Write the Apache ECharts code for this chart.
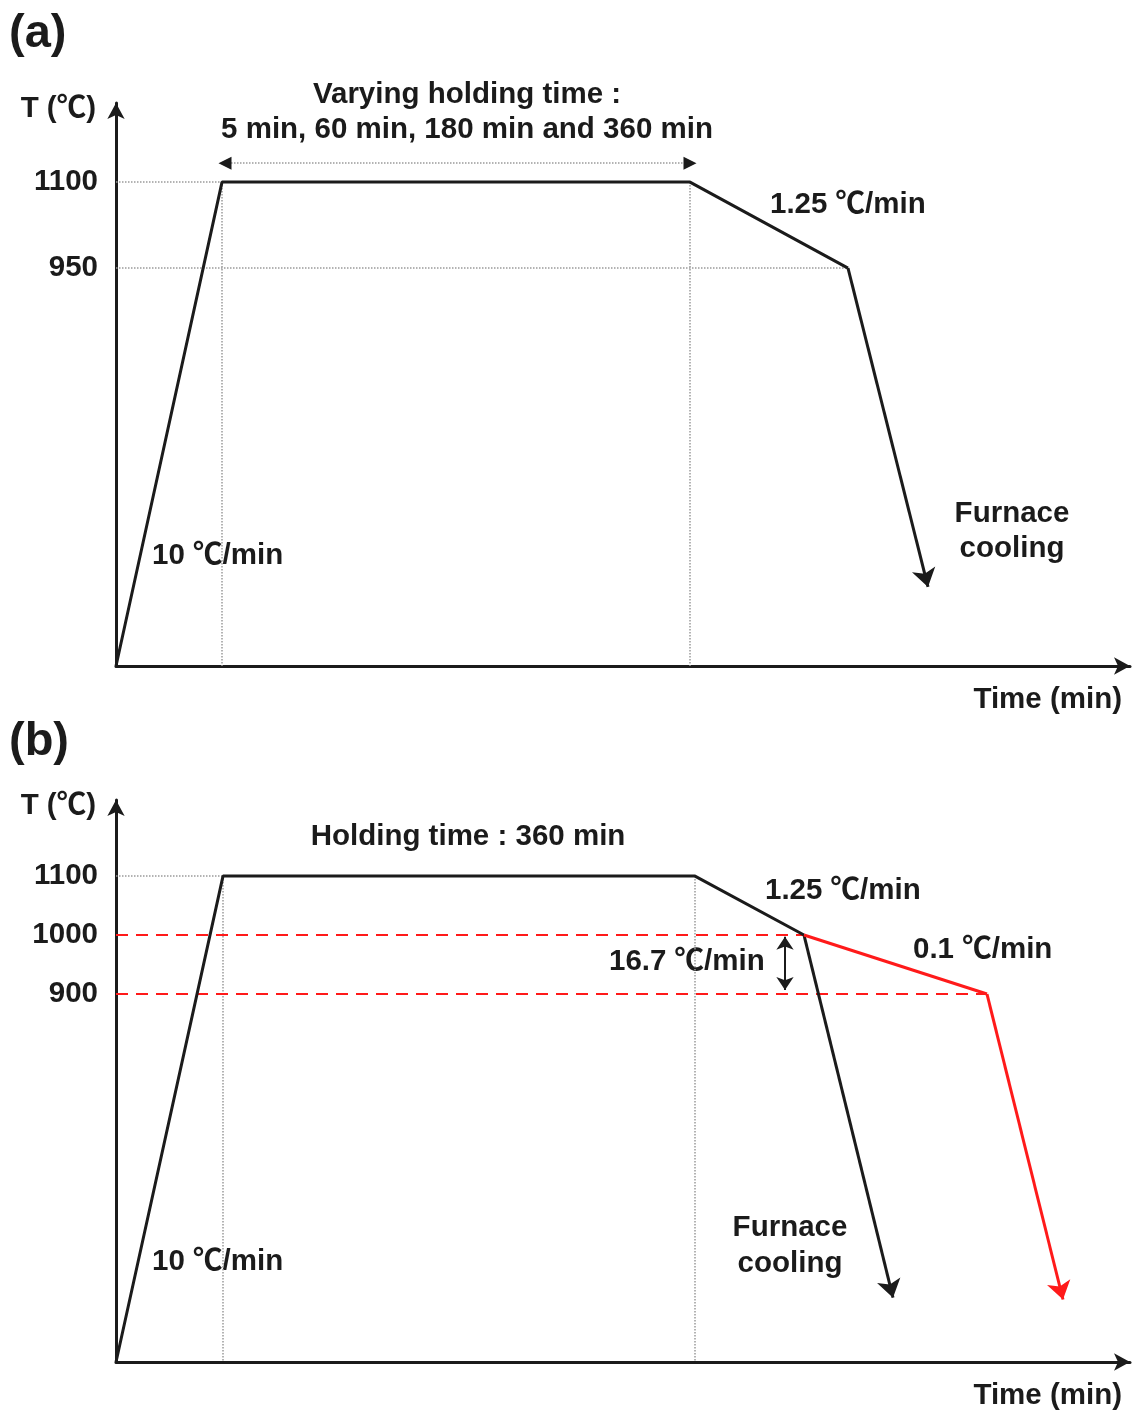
<!DOCTYPE html>
<html>
<head>
<meta charset="utf-8">
<script src="https://cdn.jsdelivr.net/npm/echarts@6/dist/echarts.min.js"></script>
<style>
  html, body { margin: 0; padding: 0; background: #fff; }
  #chart { width: 1132px; height: 1414px; }
</style>
</head>
<body>
<div id="chart"></div>
<script>
// schematic heat treatment profiles, time in arbitrary schematic units

// panel (a)
const timeA = [0, 106, 574, 732]
const tempA = [256, 1100, 1100, 950]
const coolTimeA = [732, 812]
const coolTempA = [950, 394]
const holdSpanA = [109, 574]
const holdTempA = 1133
const tickTempA = [950, 1100]
const rangeA = [256, 1238]

// panel (b)
const timeB = [0, 107, 579, 688]
const tempB = [276, 1100, 1100, 1000]
const coolTimeB = [688, 777]
const coolTempB = [1000, 385]
const slowTimeB = [688, 871, 947]
const slowTempB = [1000, 900, 382]
const rateArrowTimeB = 669
const rateArrowTempB = [997, 907]
const tickTempB = [900, 1000, 1100]
const rangeB = [276, 1229]

const timeMax = 1014
const FONT = '"Liberation Sans", Arial, "Noto Sans CJK KR", sans-serif'
const INK = '#1b1b1b'
const RED = '#ff1a1a'
const GUIDE = '#9a9a9a'
const FS = 29.5

const zip = (xs, ys) => xs.map((x, i) => [x, ys[i]])
const seg = (a, b) => ({ coords: [a, b] })

function axesFor (i, range, ticks) {
  const x = {
    type: 'value',
    gridIndex: i,
    min: 0,
    max: timeMax,
    name: 'Time (min)',
    nameLocation: 'end',
    nameGap: -8,
    nameTextStyle: { fontFamily: FONT, fontWeight: 'bold', fontSize: FS, color: INK, align: 'right', verticalAlign: 'top', padding: [19, 0, 0, 0] },
    axisLine: { lineStyle: { color: INK, width: 3 }, symbol: ['none', 'arrow'], symbolSize: [13, 16] },
    axisTick: { show: false },
    axisLabel: { show: false },
    splitLine: { show: false }
  }
  const y = {
    type: 'value',
    gridIndex: i,
    min: range[0],
    max: range[1],
    name: 'T (℃)',
    nameLocation: 'end',
    nameGap: -6,
    nameTextStyle: { fontFamily: FONT, fontWeight: 'bold', fontSize: FS, color: INK, align: 'right', verticalAlign: 'middle', padding: [0, 20, 0, 0] },
    axisLine: { lineStyle: { color: INK, width: 3 }, symbol: ['none', 'arrow'], symbolSize: [13, 16] },
    axisTick: { show: false },
    axisLabel: {
      customValues: ticks,
      margin: 18,
      formatter: v => String(v),
      fontFamily: FONT,
      fontWeight: 'bold',
      fontSize: FS,
      color: INK
    },
    splitLine: { show: false }
  }
  return { x, y }
}

const axA = axesFor(0, rangeA, tickTempA)
const axB = axesFor(1, rangeB, tickTempB)

function txt (text, x, y, align, size) {
  return {
    type: 'text',
    x: x,
    y: y,
    style: {
      text: text,
      font: 'bold ' + (size || FS) + 'px ' + FONT,
      fill: INK,
      textAlign: align || 'left',
      textVerticalAlign: 'middle'
    }
  }
}

const option = {
  backgroundColor: '#fff',
  animation: false,
  grid: [
    { left: 116, top: 103, width: 1014, height: 563 },
    { left: 116, top: 800, width: 1014, height: 562 }
  ],
  xAxis: [axA.x, axB.x],
  yAxis: [axA.y, axB.y],
  graphic: [
    txt('(a)', 9, 34, 'left', 47),
    txt('Varying holding time :', 467, 95, 'center'),
    txt('5 min, 60 min, 180 min and 360 min', 467, 130, 'center'),
    txt('1.25 ℃/min', 770, 205),
    txt('10 ℃/min', 152, 556),
    txt('Furnace', 1012, 514, 'center'),
    txt('cooling', 1012, 549, 'center'),
    txt('(b)', 9, 742, 'left', 47),
    txt('Holding time : 360 min', 468, 837, 'center'),
    txt('1.25 ℃/min', 765, 891),
    txt('0.1 ℃/min', 913, 950),
    txt('16.7 ℃/min', 609, 962),
    txt('10 ℃/min', 152, 1262),
    txt('Furnace', 790, 1228, 'center'),
    txt('cooling', 790, 1264, 'center')
  ],
  series: [
    // ---- panel (a)
    {
      type: 'lines',
      coordinateSystem: 'cartesian2d',
      xAxisIndex: 0,
      yAxisIndex: 0,
      z: 1,
      symbol: 'none',
      lineStyle: { color: GUIDE, width: 1.5, type: 'dotted', opacity: 1 },
      data: [
        seg([0, tempA[1]], [timeA[1], tempA[1]]),
        seg([0, tempA[3]], [timeA[3], tempA[3]]),
        seg([timeA[1], tempA[1]], [timeA[1], rangeA[0]]),
        seg([timeA[2], tempA[2]], [timeA[2], rangeA[0]]),
        seg([holdSpanA[0], holdTempA], [holdSpanA[1], holdTempA])
      ]
    },
    {
      type: 'scatter',
      xAxisIndex: 0,
      yAxisIndex: 0,
      z: 3,
      symbol: 'triangle',
      symbolSize: [13, 13],
      itemStyle: { color: INK, opacity: 1 },
      data: [
        { value: [holdSpanA[0], holdTempA], symbolRotate: 90 },
        { value: [holdSpanA[1], holdTempA], symbolRotate: -90 }
      ]
    },
    {
      type: 'line',
      xAxisIndex: 0,
      yAxisIndex: 0,
      z: 4,
      symbol: 'none',
      lineStyle: { color: INK, width: 3 },
      data: zip(timeA, tempA)
    },
    {
      type: 'lines',
      coordinateSystem: 'cartesian2d',
      xAxisIndex: 0,
      yAxisIndex: 0,
      z: 4,
      symbol: ['none', 'arrow'],
      symbolSize: 18,
      lineStyle: { color: INK, width: 3, opacity: 1 },
      data: [{ coords: zip(coolTimeA, coolTempA) }]
    },
    // ---- panel (b)
    {
      type: 'lines',
      coordinateSystem: 'cartesian2d',
      xAxisIndex: 1,
      yAxisIndex: 1,
      z: 1,
      symbol: 'none',
      lineStyle: { color: GUIDE, width: 1.5, type: 'dotted', opacity: 1 },
      data: [
        seg([0, tempB[1]], [timeB[1], tempB[1]]),
        seg([timeB[1], tempB[1]], [timeB[1], rangeB[0]]),
        seg([timeB[2], tempB[2]], [timeB[2], rangeB[0]])
      ]
    },
    {
      type: 'lines',
      coordinateSystem: 'cartesian2d',
      xAxisIndex: 1,
      yAxisIndex: 1,
      z: 2,
      symbol: 'none',
      lineStyle: { color: RED, width: 2, type: [12, 8], opacity: 1 },
      data: [
        seg([0, slowTempB[0]], [slowTimeB[0], slowTempB[0]]),
        seg([0, slowTempB[1]], [slowTimeB[1], slowTempB[1]])
      ]
    },
    {
      type: 'lines',
      coordinateSystem: 'cartesian2d',
      xAxisIndex: 1,
      yAxisIndex: 1,
      z: 3,
      symbol: ['arrow', 'arrow'],
      symbolSize: 13,
      lineStyle: { color: INK, width: 2, opacity: 1 },
      data: [seg([rateArrowTimeB, rateArrowTempB[0]], [rateArrowTimeB, rateArrowTempB[1]])]
    },
    {
      type: 'line',
      xAxisIndex: 1,
      yAxisIndex: 1,
      z: 4,
      symbol: 'none',
      lineStyle: { color: INK, width: 3 },
      data: zip(timeB, tempB)
    },
    {
      type: 'lines',
      coordinateSystem: 'cartesian2d',
      xAxisIndex: 1,
      yAxisIndex: 1,
      z: 4,
      symbol: ['none', 'arrow'],
      symbolSize: 18,
      lineStyle: { color: INK, width: 3, opacity: 1 },
      data: [{ coords: zip(coolTimeB, coolTempB) }]
    },
    {
      type: 'line',
      xAxisIndex: 1,
      yAxisIndex: 1,
      z: 5,
      symbol: 'none',
      lineStyle: { color: RED, width: 3 },
      data: zip(slowTimeB.slice(0, 2), slowTempB.slice(0, 2))
    },
    {
      type: 'lines',
      coordinateSystem: 'cartesian2d',
      xAxisIndex: 1,
      yAxisIndex: 1,
      z: 5,
      symbol: ['none', 'arrow'],
      symbolSize: 18,
      lineStyle: { color: RED, width: 3, opacity: 1 },
      data: [{ coords: zip(slowTimeB.slice(1), slowTempB.slice(1)) }]
    }
  ]
}

const chart = echarts.init(document.getElementById('chart'), null, { renderer: 'canvas' })
chart.setOption(option)
window.addEventListener('resize', () => chart.resize())
</script>
</body>
</html>
